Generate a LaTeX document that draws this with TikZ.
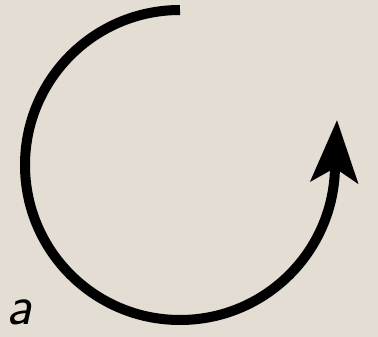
\documentclass[tikz,border=0pt]{standalone}
\usepackage{fontspec}
\usetikzlibrary{arrows.meta}
\definecolor{paper}{HTML}{E3DDD3}

\begin{document}
\begin{tikzpicture}[
  x=1pt, y=1pt,
  turn/.style={line width=10pt, -{Stealth[length=62pt, width=47pt, inset=14pt]}},
  lbl/.style={font=\fontsize{56}{60}\selectfont\sffamily\itshape, inner sep=0pt}
]
  \fill[paper] (0,0) rectangle (378,-337);
  \useasboundingbox (0,0) rectangle (378,-337);

  \coordinate (start) at (180,-10);
  \coordinate (tip)   at (337,-120);

  \draw[turn] (start) arc[start angle=90, end angle=360, radius=155] -- (tip);

  \node[lbl, anchor=base west] (a) at (6,-324) {a};
\end{tikzpicture}
\end{document}
